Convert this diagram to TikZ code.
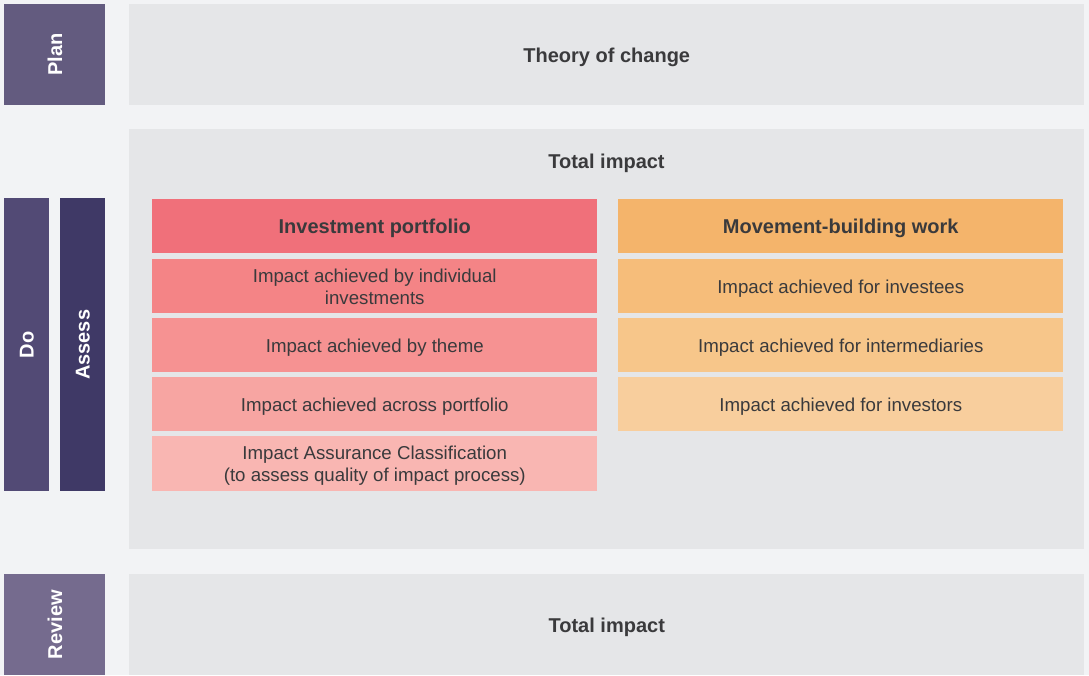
\documentclass[tikz,border=0pt]{standalone}
\usepackage{fontspec}
\setmainfont{Liberation Sans}
\usepackage{xcolor}
\usepackage{tikz}

% Colours
\definecolor{pagebg}{HTML}{F2F3F5}
\definecolor{panelgray}{HTML}{E5E6E8}
\definecolor{textgray}{HTML}{3A3A3C}
\definecolor{planpurple}{HTML}{635B7F}
\definecolor{dopurple}{HTML}{524A75}
\definecolor{assesspurple}{HTML}{3F3966}
\definecolor{reviewpurple}{HTML}{756B8E}
\definecolor{redhead}{HTML}{F0707A}
\definecolor{redA}{HTML}{F48486}
\definecolor{redB}{HTML}{F69292}
\definecolor{redC}{HTML}{F7A5A2}
\definecolor{redD}{HTML}{F9B6B2}
\definecolor{orangehead}{HTML}{F4B46B}
\definecolor{orangeA}{HTML}{F6BD7A}
\definecolor{orangeB}{HTML}{F7C68A}
\definecolor{orangeC}{HTML}{F8CE9D}

\tikzset{
    box/.style={anchor=north west, inner sep=0pt, align=center, text=textgray, text depth=0pt},
    phase/.style={box, anchor=north east, rotate=90, text=white, font=\bfseries\fontsize{15}{18}\selectfont},
    panel/.style={box, fill=panelgray, minimum width=716.25pt},
    head/.style={box, minimum width=333.75pt, minimum height=40.5pt, font=\bfseries\fontsize{15}{18}\selectfont},
    row/.style={box, minimum width=333.75pt, minimum height=40.5pt, font=\fontsize{14}{16.5}\selectfont},
    title/.style={text=textgray, text depth=0pt, font=\bfseries\fontsize{15}{18}\selectfont}
}

\begin{document}
\begin{tikzpicture}[x=0.75pt, y=-0.75pt]
    % Page background
    \fill[pagebg] (0,0) rectangle (1089,675);
    \useasboundingbox (0,0) rectangle (1089,675);

    % Plan
    \node[phase, fill=planpurple, minimum width=75.75pt, minimum height=75.75pt] (plan) at (4,4) {Plan};
    \node[panel, minimum height=75.75pt] (theory) at (129,4) {};
    \node[title] (theorytitle) at (theory.center) {Theory of change};

    % Do / Assess
    \node[panel, minimum height=315pt] (total) at (129,129) {};
    \node[title] (totaltitle) at (606.5,161) {Total impact};
    \node[phase, fill=dopurple, minimum width=219.75pt, minimum height=33.75pt] (do) at (4,198) {Do};
    \node[phase, fill=assesspurple, minimum width=219.75pt, minimum height=33.75pt] (assess) at (60,198) {Assess};

    % Investment portfolio column
    \node[head, fill=redhead] (portfolio) at (152,199) {Investment portfolio};
    \node[row, fill=redA] (individual) at (152,259) {Impact achieved by individual\\investments};
    \node[row, fill=redB] (theme) at (152,318) {Impact achieved by theme};
    \node[row, fill=redC] (across) at (152,377) {Impact achieved across portfolio};
    \node[row, fill=redD, minimum height=41.25pt] (assurance) at (152,436) {Impact Assurance Classification\\(to assess quality of impact process)};

    % Movement-building column
    \node[head, fill=orangehead] (movement) at (618,199) {Movement-building work};
    \node[row, fill=orangeA] (investees) at (618,259) {Impact achieved for investees};
    \node[row, fill=orangeB] (intermediaries) at (618,318) {Impact achieved for intermediaries};
    \node[row, fill=orangeC] (investors) at (618,377) {Impact achieved for investors};

    % Review
    \node[phase, fill=reviewpurple, minimum width=75.75pt, minimum height=75.75pt] (review) at (4,574) {Review};
    \node[panel, minimum height=75.75pt] (reviewpanel) at (129,574) {};
    \node[title] (reviewtitle) at (reviewpanel.center) {Total impact};
\end{tikzpicture}
\end{document}
